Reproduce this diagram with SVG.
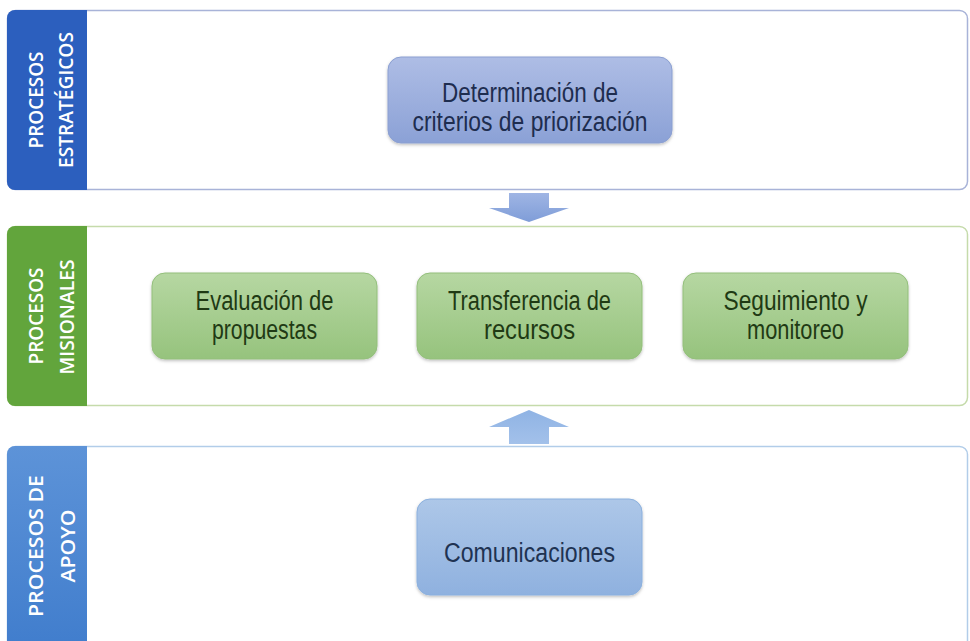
<svg xmlns="http://www.w3.org/2000/svg" width="970" height="641" viewBox="0 0 970 641">
  <style>
    .band { font-family: "Open Sans", "Liberation Sans", sans-serif; font-size: 19px; font-weight: 600; fill: #ffffff; }
    .lbl { font-family: "Liberation Sans Narrow", "Liberation Sans", Arial, sans-serif; font-size: 27px; text-anchor: middle; }
    .blueTxt { fill: #1e2d4f; }
    .greenTxt { fill: #1f3a14; }
    .commTxt { fill: #1f3352; }
  </style>
  <defs>
    <linearGradient id="gBlueBox" x1="0" y1="0" x2="0" y2="1">
      <stop offset="0" stop-color="#aebde5"/>
      <stop offset="1" stop-color="#8ba1d6"/>
    </linearGradient>
    <linearGradient id="gGreenBox" x1="0" y1="0" x2="0" y2="1">
      <stop offset="0" stop-color="#b6d7a2"/>
      <stop offset="1" stop-color="#96c37d"/>
    </linearGradient>
    <linearGradient id="gCommBox" x1="0" y1="0" x2="0" y2="1">
      <stop offset="0" stop-color="#adc7e8"/>
      <stop offset="1" stop-color="#8fb1df"/>
    </linearGradient>
    <linearGradient id="gBand3" x1="0" y1="0" x2="0" y2="1">
      <stop offset="0" stop-color="#5d93d8"/>
      <stop offset="1" stop-color="#3f7ccc"/>
    </linearGradient>
    <linearGradient id="gArrowDown" x1="0" y1="0" x2="0" y2="1">
      <stop offset="0" stop-color="#9fb5e4"/>
      <stop offset="1" stop-color="#7f9dd8"/>
    </linearGradient>
    <linearGradient id="gArrowUp" x1="0" y1="0" x2="0" y2="1">
      <stop offset="0" stop-color="#8fb3e4"/>
      <stop offset="1" stop-color="#a3c1ea"/>
    </linearGradient>
    <filter id="sh" x="-10%" y="-10%" width="120%" height="130%">
      <feDropShadow dx="0" dy="1.5" stdDeviation="1.5" flood-color="#000" flood-opacity="0.25"/>
    </filter>
  </defs>

  <rect width="970" height="641" fill="#ffffff"/>

  <!-- Panel 1: Procesos estratégicos -->
  <g id="panel-estrategicos">
    <rect x="7.5" y="10.5" width="960" height="179" rx="8" fill="#ffffff" stroke="#a8b3d8" stroke-width="1.5"/>
    <path d="M15 10 H87 V190 H15 A8 8 0 0 1 7 182 V18 A8 8 0 0 1 15 10 Z" fill="#2c5fbe"/>
    <text class="band" transform="translate(43,100) rotate(-90)" text-anchor="middle" textLength="97" lengthAdjust="spacingAndGlyphs">PROCESOS</text>
    <text class="band" transform="translate(73,100) rotate(-90)" text-anchor="middle" textLength="136" lengthAdjust="spacingAndGlyphs">ESTRATÉGICOS</text>
  </g>

  <!-- Panel 2: Procesos misionales -->
  <g id="panel-misionales">
    <rect x="7.5" y="226.5" width="960" height="179" rx="8" fill="#ffffff" stroke="#c5dbab" stroke-width="1.5"/>
    <path d="M15 226 H87 V406 H15 A8 8 0 0 1 7 398 V234 A8 8 0 0 1 15 226 Z" fill="#62a53c"/>
    <text class="band" transform="translate(43,316) rotate(-90)" text-anchor="middle" textLength="97" lengthAdjust="spacingAndGlyphs">PROCESOS</text>
    <text class="band" transform="translate(74,317) rotate(-90)" text-anchor="middle" textLength="115" lengthAdjust="spacingAndGlyphs">MISIONALES</text>
  </g>

  <!-- Panel 3: Procesos de apoyo -->
  <g id="panel-apoyo">
    <rect x="7.5" y="446.5" width="960" height="210" rx="8" fill="#ffffff" stroke="#b2cde9" stroke-width="1.5"/>
    <path d="M15 446 H87 V660 H7 V454 A8 8 0 0 1 15 446 Z" fill="url(#gBand3)"/>
    <text class="band" transform="translate(43,546) rotate(-90)" text-anchor="middle" textLength="142" lengthAdjust="spacingAndGlyphs">PROCESOS DE</text>
    <text class="band" transform="translate(75,546) rotate(-90)" text-anchor="middle" textLength="73" lengthAdjust="spacingAndGlyphs">APOYO</text>
  </g>

  <!-- Nodes -->
  <g id="node-determinacion">
    <rect x="388" y="57" width="284" height="86" rx="13" fill="url(#gBlueBox)" stroke="#8b9fd1" stroke-width="1" filter="url(#sh)"/>
    <text class="lbl blueTxt" x="530" y="102" font-size="28" textLength="176" lengthAdjust="spacingAndGlyphs">Determinación de</text>
    <text class="lbl blueTxt" x="530" y="131" font-size="28" textLength="235" lengthAdjust="spacingAndGlyphs">criterios de priorización</text>
  </g>

  <g id="node-evaluacion">
    <rect x="152" y="273" width="225" height="86" rx="13" fill="url(#gGreenBox)" stroke="#93bf7b" stroke-width="1" filter="url(#sh)"/>
    <text class="lbl greenTxt" x="264.5" y="310" textLength="138" lengthAdjust="spacingAndGlyphs">Evaluación de</text>
    <text class="lbl greenTxt" x="264.5" y="339" textLength="105" lengthAdjust="spacingAndGlyphs">propuestas</text>
  </g>

  <g id="node-transferencia">
    <rect x="417" y="273" width="225" height="86" rx="13" fill="url(#gGreenBox)" stroke="#93bf7b" stroke-width="1" filter="url(#sh)"/>
    <text class="lbl greenTxt" x="529.5" y="310" textLength="163" lengthAdjust="spacingAndGlyphs">Transferencia de</text>
    <text class="lbl greenTxt" x="529.5" y="339" textLength="91" lengthAdjust="spacingAndGlyphs">recursos</text>
  </g>

  <g id="node-seguimiento">
    <rect x="683" y="273" width="225" height="86" rx="13" fill="url(#gGreenBox)" stroke="#93bf7b" stroke-width="1" filter="url(#sh)"/>
    <text class="lbl greenTxt" x="795.5" y="310" textLength="144" lengthAdjust="spacingAndGlyphs">Seguimiento y</text>
    <text class="lbl greenTxt" x="795.5" y="339" textLength="97" lengthAdjust="spacingAndGlyphs">monitoreo</text>
  </g>

  <g id="node-comunicaciones">
    <rect x="417" y="499" width="225" height="96" rx="13" fill="url(#gCommBox)" stroke="#8bb0de" stroke-width="1" filter="url(#sh)"/>
    <text class="lbl commTxt" x="529.5" y="562" font-size="31" textLength="171" lengthAdjust="spacingAndGlyphs">Comunicaciones</text>
  </g>

  <!-- Connectors -->
  <g id="connectors">
    <path d="M509 193 H549 V208 H569 L529 222 L489 208 H509 Z" fill="url(#gArrowDown)"/>
    <path d="M529 410 L569 427 H549 V444 H509 V427 H489 Z" fill="url(#gArrowUp)"/>
  </g>
</svg>
